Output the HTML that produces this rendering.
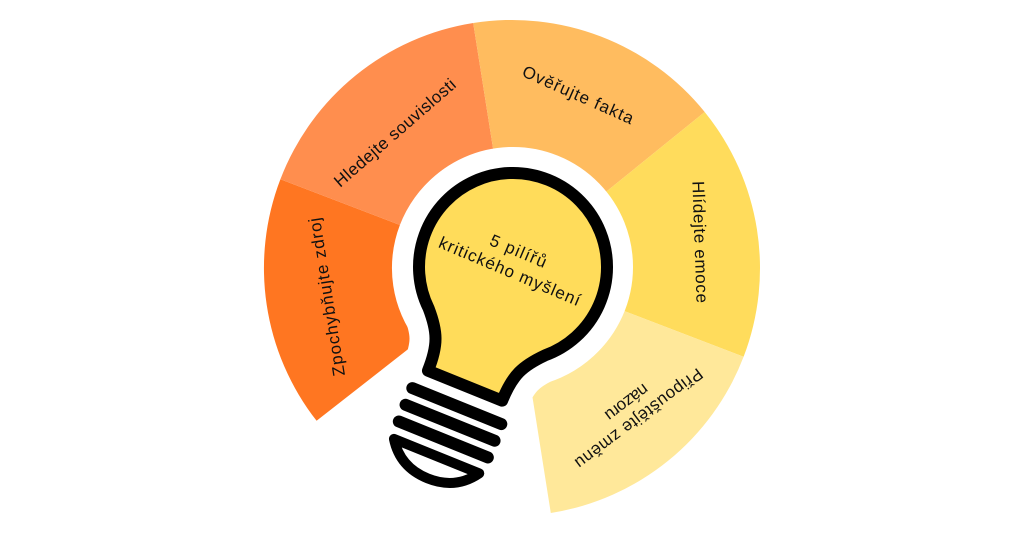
<!DOCTYPE html>
<html><head><meta charset="utf-8"><style>
html,body{margin:0;padding:0;background:#fff;width:1024px;height:536px;overflow:hidden}
svg{display:block}
text{font-family:"Liberation Sans",sans-serif;font-size:17px;fill:#111;text-anchor:middle;dominant-baseline:central}
</style></head><body>
<svg width="1024" height="536" viewBox="0 0 1024 536" xmlns="http://www.w3.org/2000/svg">
<path d="M316.6,420.8 A248,248 0 0 1 280.4,179.2 L399.9,225.0 A120,120 0 0 0 417.4,341.9 Z" fill="#FF7621"/>
<path d="M280.4,179.2 A248,248 0 0 1 473.2,23.0 L493.2,149.4 A120,120 0 0 0 399.9,225.0 Z" fill="#FF8E4E"/>
<path d="M473.2,23.0 A248,248 0 0 1 704.7,112.0 L605.2,192.5 A120,120 0 0 0 493.2,149.4 Z" fill="#FFBC5F"/>
<path d="M704.7,112.0 A248,248 0 0 1 743.6,356.8 L624.1,311.0 A120,120 0 0 0 605.2,192.5 Z" fill="#FFDC5C"/>
<path d="M743.6,356.8 A248,248 0 0 1 550.8,513.0 L530.8,386.5 A120,120 0 0 0 624.1,311.0 Z" fill="#FFE89A"/>

<g transform="translate(513,267) rotate(22)">
  <path d="M -62.7,70 C -46,88 -40,100 -40,128 L 40,128 C 40,100 46,88 62.7,70 A 94 94 0 1 0 -62.7 70 Z" fill="#fff" stroke="#fff" stroke-width="52" stroke-linejoin="round"/>
  <path d="M -62.7,70 C -46,88 -40,100 -40,128 L 40,128 C 40,100 46,88 62.7,70 A 94 94 0 1 0 -62.7 70 Z" fill="#FFDC5A" stroke="#000" stroke-width="12" stroke-linejoin="round"/>
  <g stroke="#000" stroke-width="12" stroke-linecap="round">
    <line x1="-48" y1="150" x2="48" y2="150"/>
    <line x1="-48" y1="168" x2="48" y2="168"/>
    <line x1="-48" y1="186" x2="48" y2="186"/>
  </g>
  <path d="M -46,204 L 46,204 Q 30,228 0,228 Q -30,228 -46,204 Z" fill="#fff" stroke="#000" stroke-width="10" stroke-linejoin="round"/>
</g>

<g transform="translate(512,266) rotate(23)">
  <text x="0" y="-16" textLength="60">5 pilířů</text>
  <text x="0" y="6" textLength="152">kritického myšlení</text>
</g>

<text transform="translate(327,297) rotate(-99)" textLength="160">Zpochybňujte  zdroj</text>
<text transform="translate(395,133) rotate(-41)" textLength="155">Hledejte souvislosti</text>
<text transform="translate(578,95) rotate(24)" textLength="120">Ověřujte fakta</text>
<text transform="translate(700,242) rotate(88)" textLength="122">Hlídejte emoce</text>
<g transform="translate(634,412) rotate(143)">
  <text x="0" y="-8" textLength="155">Připouštějte změnu</text>
  <text x="0" y="12" textLength="50">názoru</text>
</g>
</svg>
</body></html>
